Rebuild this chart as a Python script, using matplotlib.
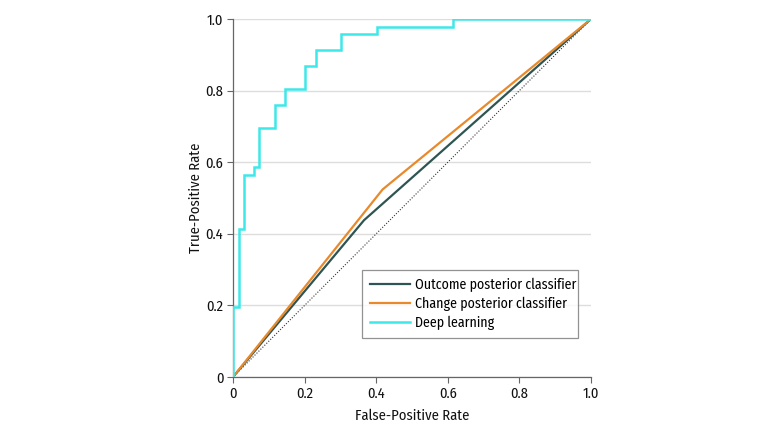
import matplotlib
matplotlib.use("Agg")
import matplotlib.pyplot as plt

plt.rcParams['font.family'] = ['Fira Sans Condensed', 'Roboto Condensed', 'Lato', 'DejaVu Sans']

# Deep learning ROC (step curve vertices)
dl_fpr = [0.0, 0.0, 0.017, 0.017, 0.031, 0.031, 0.060, 0.060, 0.074, 0.074,
          0.116, 0.116, 0.145, 0.145, 0.202, 0.202, 0.231, 0.231, 0.301, 0.301,
          0.401, 0.401, 0.615, 0.615, 1.0]
dl_tpr = [0.0, 0.196, 0.196, 0.413, 0.413, 0.565, 0.565, 0.587, 0.587, 0.696,
          0.696, 0.761, 0.761, 0.804, 0.804, 0.870, 0.870, 0.913, 0.913, 0.957,
          0.957, 0.978, 0.978, 1.0, 1.0]
outcome_fpr = [0.0, 0.366, 1.0]
outcome_tpr = [0.0, 0.438, 1.0]
change_fpr = [0.0, 0.418, 1.0]
change_tpr = [0.0, 0.524, 1.0]
ticks = [0, 0.2, 0.4, 0.6, 0.8, 1.0]
tick_labels = ['0', '0.2', '0.4', '0.6', '0.8', '1.0']

fig = plt.figure(figsize=(7.8, 4.32), dpi=100)
ax = fig.add_axes([233/780, (432-377)/432, (591-233)/780, (377-19)/432])

ax.plot([0, 1], [0, 1], linestyle=(0, (1, 1.5)), color='#333333', linewidth=0.8, zorder=2)
ax.plot(outcome_fpr, outcome_tpr, color='#2F5553', linewidth=1.6, label='Outcome posterior classifier', zorder=3)
ax.plot(change_fpr, change_tpr, color='#E8892B', linewidth=1.6, label='Change posterior classifier', zorder=3)
ax.plot(dl_fpr, dl_tpr, color='#3DE8E8', linewidth=1.8, label='Deep learning', zorder=4,
        solid_joinstyle='miter')

ax.set_xlim(0, 1)
ax.set_ylim(0, 1)
ax.set_xticks(ticks)
ax.set_xticklabels(tick_labels)
ax.set_yticks(ticks)
ax.set_yticklabels(tick_labels)
ax.yaxis.grid(True, color='#DDDDDD', linewidth=1.0, zorder=0)
ax.set_axisbelow(True)
for s in ['top', 'right']:
    ax.spines[s].set_visible(False)
for s in ['left', 'bottom']:
    ax.spines[s].set_color('#666666')
    ax.spines[s].set_linewidth(0.9)
ax.tick_params(axis='both', direction='out', length=4, width=0.8, color='#666666',
               labelsize=10.5, labelcolor='#111111', pad=3)
ax.set_xlabel('False-Positive Rate', fontsize=10.5, color='#111111', labelpad=6)
ax.set_ylabel('True-Positive Rate', fontsize=10.5, color='#111111', labelpad=2)

leg = ax.legend(loc='lower left', bbox_to_anchor=(0.360, 0.109, 0.603, 0.182), mode='expand',
                borderaxespad=0, fontsize=10, frameon=True, fancybox=False, edgecolor='#777777',
                handlelength=2.9, borderpad=0.55, labelspacing=0.35, handletextpad=0.35)
leg.get_frame().set_linewidth(0.9)

fig.savefig('out.png', dpi=100)
